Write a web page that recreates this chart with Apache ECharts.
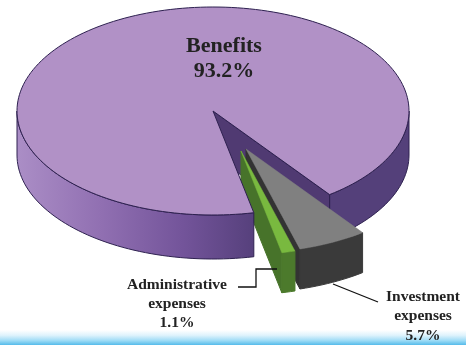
<!DOCTYPE html>
<html>
<head>
<meta charset="utf-8">
<style>html,body{margin:0;padding:0;background:#fff}#main{width:466px;height:345px}</style>
<script src="https://cdn.jsdelivr.net/npm/echarts@6/dist/echarts.min.js"></script>
</head>
<body>
<div id="main"></div>
<script>
// Shares of spending, in percent
const categories = ['Investment expenses', 'Administrative expenses', 'Benefits'];
const shares = [5.7, 1.1, 93.2];

// Pie layout: ellipse centre and radii, and the clockwise offset of the first slice from east
const CX = 213, CY = 111, RX = 196, RY = 104;
const START_OFFSET_DEG = 53.5;
const styles = [
  { top: '#808080', side: '#3a3a3a', wall: '#333333', dx: 33, dy: 38, depth: 40 },
  { top: '#79b93f', side: '#4c7a2c', wall: '#47732a', dx: 28, dy: 40, depth: 40 },
  { top: '#b191c6', side: '#54407a', wall: '#503a72', dx: 0, dy: 0, depth: 44 }
];
const OUTLINE = '#2e2150';

const cumulative = [];
shares.reduce((sum, v) => { cumulative.push([sum, sum + v]); return sum + v; }, 0);

// Samples the rim between two cumulative percentages, flattened from circle to ellipse
function arcPoints(api, from, to, s) {
  const pts = [];
  const steps = Math.max(2, Math.ceil((to - from) * 2));
  for (let i = 0; i <= steps; i++) {
    const p = api.coord([1, from + (to - from) * i / steps]);
    pts.push([p[0] + s.dx, CY + (p[1] - CY) * RY / RX + s.dy]);
  }
  return pts;
}
const drop = (pts, d) => pts.map(p => [p[0], p[1] + d]);
const poly = (points, fill, stroke, z2, lineWidth) => ({
  type: 'polygon', z2,
  shape: { points },
  style: { fill, stroke: stroke || fill, lineWidth: lineWidth === undefined ? 1 : lineWidth }
});

function renderSlice(params, api) {
  const i = params.dataIndex;
  const from = api.value(0), to = api.value(1);
  const s = styles[i];
  const apex = [CX + s.dx, CY + s.dy];
  const children = [];

  if (i < 2) {
    // Pulled-out wedge: cut face, rim, then top
    const arc = arcPoints(api, from, to, s);
    const z = 10 + i * 10;
    const nearEdge = arc[arc.length - 1];
    children.push(poly([apex, nearEdge, [nearEdge[0], nearEdge[1] + s.depth], [apex[0], apex[1] + s.depth]], s.wall, s.wall, z));
    children.push(poly(arc.concat(drop(arc, s.depth).reverse()), s.side, s.side, z + 1));
    children.push(poly([apex].concat(arc), s.top, s.top, z + 2, 0.5));
  } else {
    // Main body: the far rim and inner face sit behind the wedges, the near rim and top in front
    const all = arcPoints(api, from, to, s);
    const cut = all[all.length - 1];
    const eastPct = 100 - START_OFFSET_DEG / 3.6;
    const rightPts = arcPoints(api, eastPct, to, s);
    children.push(poly(rightPts.concat(drop(rightPts, s.depth).reverse()), s.side, OUTLINE, 1));
    children.push(poly([apex, cut, [cut[0], cut[1] + s.depth], [apex[0], apex[1] + s.depth]], s.wall, OUTLINE, 2));
    // near rim, from the cut round to the leftmost point of the ellipse
    const westPct = (180 - START_OFFSET_DEG) / 3.6;
    const leftPts = arcPoints(api, from, westPct, s);
    children.push(poly(leftPts.concat(drop(leftPts, s.depth).reverse()), {
      type: 'linear', x: 0, y: 0, x2: 1, y2: 0,
      colorStops: [
        { offset: 0, color: '#ab8ec6' },
        { offset: 0.35, color: '#9170b2' },
        { offset: 0.7, color: '#73549a' },
        { offset: 1, color: '#56407c' }
      ]
    }, OUTLINE, 40));
    children.push(poly([apex].concat(all), s.top, OUTLINE, 41));
  }
  return { type: 'group', children };
}

const chart = echarts.init(document.getElementById('main'), null, { renderer: 'canvas' });

const SERIF = '"Liberation Serif", serif';
const label = (x, y, lines, size, leading) => ({
  type: 'text', z: 20, x, y,
  style: {
    text: lines.join('\n'), fill: '#222222', align: 'center', verticalAlign: 'top',
    font: 'bold ' + size + 'px ' + SERIF, lineHeight: leading
  }
});
const leader = (points) => ({
  type: 'polyline', z: 20,
  shape: { points },
  style: { stroke: '#111111', lineWidth: 1.3, fill: null }
});

chart.setOption({
  animation: false,
  backgroundColor: '#ffffff',
  polar: { center: [CX, CY], radius: RX },
  angleAxis: { type: 'value', min: 0, max: 100, startAngle: -START_OFFSET_DEG, clockwise: true, show: false },
  radiusAxis: { type: 'value', min: 0, max: 1, show: false },
  series: [{
    type: 'custom',
    coordinateSystem: 'polar',
    clip: false,
    silent: true,
    renderItem: renderSlice,
    encode: { radius: 2, angle: 0 },
    data: categories.map((name, i) => ({ name, value: [cumulative[i][0], cumulative[i][1], 1] }))
  }],
  graphic: [
    {
      type: 'rect', z: 0,
      shape: { x: 0, y: 330, width: 466, height: 15 },
      style: {
        fill: {
          type: 'linear', x: 0, y: 0, x2: 0, y2: 1,
          colorStops: [
            { offset: 0, color: '#ffffff' },
            { offset: 0.35, color: '#dff3fc' },
            { offset: 0.7, color: '#9fdcf6' },
            { offset: 1, color: '#55bbea' }
          ]
        }
      }
    },
    label(224, 34, ['Benefits', shares[2] + '%'], 22, 25),
    label(177, 275, ['Administrative', 'expenses', shares[1] + '%'], 15.5, 19),
    label(423, 287, ['Investment', 'expenses', shares[0] + '%'], 15.5, 19.5),
    leader([[238, 287], [256, 287], [256, 269], [277, 269]]),
    leader([[333, 284], [378, 302]])
  ]
});
</script>
</body>
</html>
